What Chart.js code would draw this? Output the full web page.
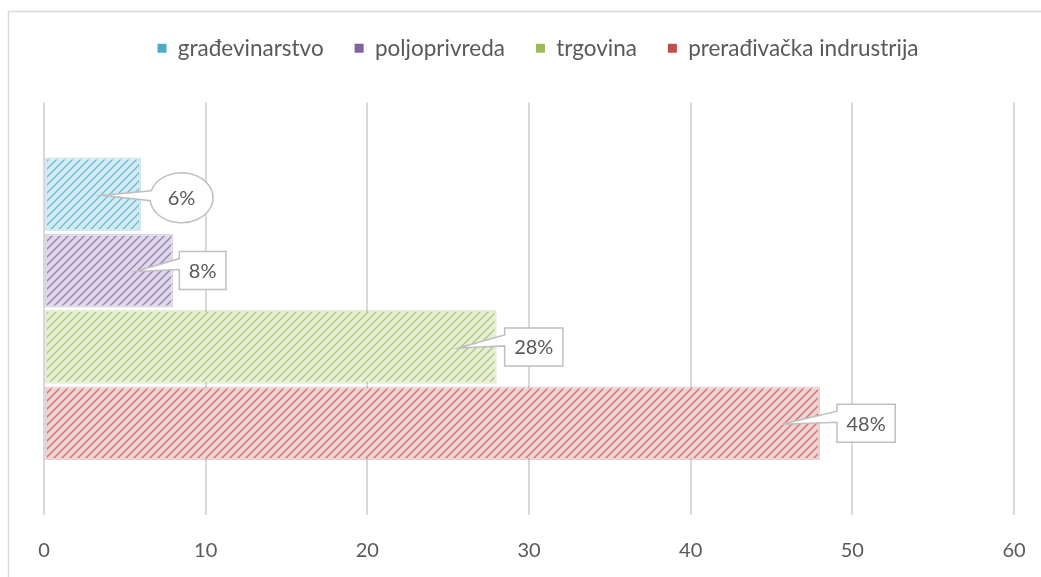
<!DOCTYPE html>
<html>
<head>
<meta charset="utf-8">
<script src="https://cdn.jsdelivr.net/npm/chart.js@4.4.0/dist/chart.umd.min.js"></script>
<style>
html,body{margin:0;padding:0;background:#fff;overflow:hidden}
canvas{display:block}
</style>
</head>
<body>
<canvas id="c" width="1041" height="577"></canvas>
<script>
const sectors = ['građevinarstvo', 'poljoprivreda', 'trgovina', 'prerađivačka indrustrija'];
const shares = [6, 8, 28, 48];
const xTicks = [0, 10, 20, 30, 40, 50, 60];
const baseColors = ['#4bacc6', '#8064a2', '#9bbb59', '#c0504d'];

const FONT = 'Lato';
const TEXT = '#595959';

// diagonal hatch like the office "wide upward diagonal" fill
function hatch(color) {
    const t = document.createElement('canvas');
    t.width = t.height = 8;
    const g = t.getContext('2d');
    g.fillStyle = '#fff';
    g.fillRect(0, 0, 8, 8);
    g.globalAlpha = 0.25;
    g.fillStyle = color;
    g.fillRect(0, 0, 8, 8);
    g.globalAlpha = 0.75;
    g.strokeStyle = color;
    g.lineWidth = 1.3;
    g.beginPath();
    g.moveTo(-1, 9); g.lineTo(9, -1);
    g.moveTo(-1, 1); g.lineTo(1, -1);
    g.moveTo(7, 9); g.lineTo(9, 7);
    g.stroke();
    return g.createPattern(t, 'repeat');
}

const frame = {
    id: 'frame',
    beforeDraw(chart) {
        const ctx = chart.ctx;
        ctx.save();
        ctx.fillStyle = '#fff';
        ctx.fillRect(0, 0, chart.width, chart.height);
        ctx.strokeStyle = '#d9d9d9';
        ctx.lineWidth = 1.5;
        ctx.strokeRect(8.5, 11.5, 1200, 800);
        ctx.restore();
    }
};

// push the plot area down below the legend, nudge legend right
const legendGap = {
    id: 'legendGap',
    beforeInit(chart) {
        const fit = chart.legend.fit;
        chart.legend.fit = function () {
            fit.bind(chart.legend)();
            this.height += 33;
        };
    },
    afterLayout(chart) {
        chart.legend.left += 9;
        chart.legend.right += 9;
    }
};

const callouts = {
    id: 'callouts',
    afterDatasetsDraw(chart, args, opts) {
        const ctx = chart.ctx;
        ctx.save();
        ctx.font = '20px ' + FONT;
        chart.data.datasets.forEach((ds, i) => {
            const bar = chart.getDatasetMeta(i).data[0];
            const text = ds.data[0] + '%';
            const tipX = bar.x - 38, tipY = bar.y + 1;
            const gap = opts.gaps[i];
            let cx, cy;
            ctx.beginPath();
            if (i === 0) {
                const rx = 31.5, ry = 25;
                cx = bar.x + gap + rx; cy = bar.y + 3.5;
                const t1 = Math.PI + Math.asin(7 / ry);
                const t2 = Math.PI - Math.asin(3 / ry) + Math.PI * 2;
                ctx.moveTo(cx + rx * Math.cos(t1), cy + ry * Math.sin(t1));
                ctx.ellipse(cx, cy, rx, ry, 0, t1, t2);
                ctx.lineTo(tipX, tipY);
                ctx.closePath();
            } else {
                const w = ctx.measureText(text).width + 19, h = 38;
                const left = bar.x + gap, top = bar.y - 19;
                cx = left + w / 2; cy = top + h / 2;
                ctx.moveTo(left, top);
                ctx.lineTo(left + w, top);
                ctx.lineTo(left + w, top + h);
                ctx.lineTo(left, top + h);
                ctx.lineTo(left, top + 18);
                ctx.lineTo(tipX, tipY);
                ctx.lineTo(left, top + 7);
                ctx.closePath();
            }
            ctx.fillStyle = '#fff';
            ctx.fill();
            ctx.strokeStyle = '#bfbfbf';
            ctx.lineWidth = 1.5;
            ctx.stroke();
            ctx.fillStyle = TEXT;
            ctx.textAlign = 'center';
            ctx.textBaseline = 'middle';
            ctx.fillText(text, cx, cy + 1);
        });
        ctx.restore();
    }
};

new Chart(document.getElementById('c'), {
    type: 'bar',
    data: {
        labels: [''],
        datasets: sectors.map((name, i) => ({
            label: name,
            data: [shares[i]],
            backgroundColor: hatch(baseColors[i]),
            borderColor: baseColors[i] + '44',
            borderWidth: 2,
            borderSkipped: false,
            categoryPercentage: 0.74,
            barPercentage: 0.965
        }))
    },
    options: {
        indexAxis: 'y',
        responsive: false,
        animation: false,
        devicePixelRatio: 1,
        layout: { padding: { top: 6, left: 44, right: 27, bottom: -10 } },
        plugins: {
            tooltip: { enabled: false },
            legend: {
                position: 'top',
                labels: {
                    font: { family: FONT, size: 22.5 },
                    color: TEXT,
                    boxWidth: 9,
                    boxHeight: 9,
                    padding: 31,
                    generateLabels(chart) {
                        return chart.data.datasets.map((ds, i) => ({
                            text: ds.label,
                            fillStyle: baseColors[i],
                            strokeStyle: 'rgba(0,0,0,0)',
                            lineWidth: 0,
                            fontColor: TEXT,
                            datasetIndex: i
                        }));
                    }
                }
            },
            callouts: { gaps: [9, 6, 8, 17] }
        },
        scales: {
            x: {
                min: 0,
                max: 60,
                afterBuildTicks(scale) { scale.ticks = xTicks.map(v => ({ value: v })); },
                afterFit(scale) { scale.paddingLeft = 0; scale.paddingRight = 0; },
                grid: { color: '#d9d9d9', lineWidth: 2, drawTicks: false },
                border: { display: false },
                ticks: { color: TEXT, font: { family: FONT, size: 20 }, padding: 24 }
            },
            y: { display: false }
        }
    },
    plugins: [frame, legendGap, callouts]
});
</script>
</body>
</html>
